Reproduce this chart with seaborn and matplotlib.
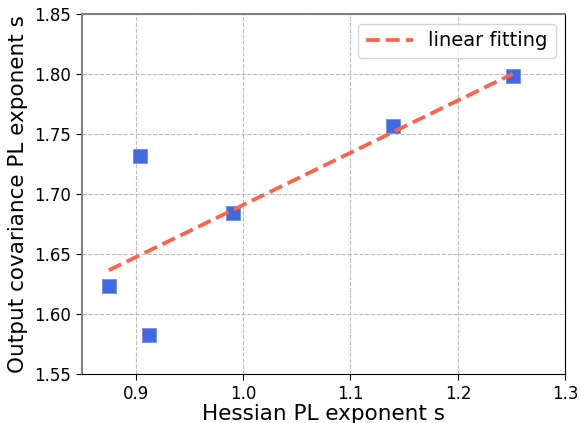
import numpy as np
import pandas as pd
import matplotlib
matplotlib.use('Agg')
import matplotlib.pyplot as plt
import seaborn as sns

hessian_s = [0.875, 0.904, 0.912, 0.991, 1.140, 1.251]
output_s = [1.6235, 1.732, 1.5825, 1.684, 1.7567, 1.798]

dados = pd.DataFrame({'hessian': hessian_s, 'output': output_s})

# ajuste linear
coef = np.polyfit(dados['hessian'], dados['output'], 1)
xs = np.array([min(hessian_s), max(hessian_s)])
ajuste = pd.DataFrame({'hessian': xs, 'output': np.polyval(coef, xs)})

sns.set_style("white", {'text.color': 'black', 'axes.labelcolor': 'black',
                        'xtick.color': 'black', 'ytick.color': 'black'})
plt.rcParams['font.family'] = ['DejaVu Sans']

fig, ax = plt.subplots(figsize=(5.81, 4.23), dpi=100)
sns.scatterplot(data=dados, x='hessian', y='output', marker='s', s=100,
                color='royalblue', edgecolor='#6f8fe8', linewidth=0.6, ax=ax, zorder=3)
sns.lineplot(data=ajuste, x='hessian', y='output', color='tomato', linestyle='--',
             linewidth=2.7, label='linear fitting', ax=ax, zorder=4)

ax.set_xlim(0.85, 1.3)
ax.set_ylim(1.55, 1.85)
ax.set_xticks([0.9, 1.0, 1.1, 1.2, 1.3])
ax.set_yticks([1.55, 1.60, 1.65, 1.70, 1.75, 1.80, 1.85])
ax.set_yticklabels(['1.55', '1.60', '1.65', '1.70', '1.75', '1.80', '1.85'])
ax.grid(True, linestyle='--', color='#bbbbbb', linewidth=0.8)
ax.tick_params(axis='both', labelsize=12, length=4, pad=4, direction='out',
               bottom=True, left=True, colors='black')
ax.set_xlabel('Hessian PL exponent s', fontsize=15.5, labelpad=1)
ax.set_ylabel('Output covariance PL exponent s', fontsize=15.5, labelpad=4)
for lado in ['left', 'top']:
    ax.spines[lado].set_color('gray')
    ax.spines[lado].set_linewidth(1.5)
for lado in ['right', 'bottom']:
    ax.spines[lado].set_color('black')
ax.legend(loc='upper right', fontsize=14, handlelength=2.4)

plt.subplots_adjust(left=0.141, right=0.973, top=0.967, bottom=0.116)
plt.savefig('out.png', dpi=100)
